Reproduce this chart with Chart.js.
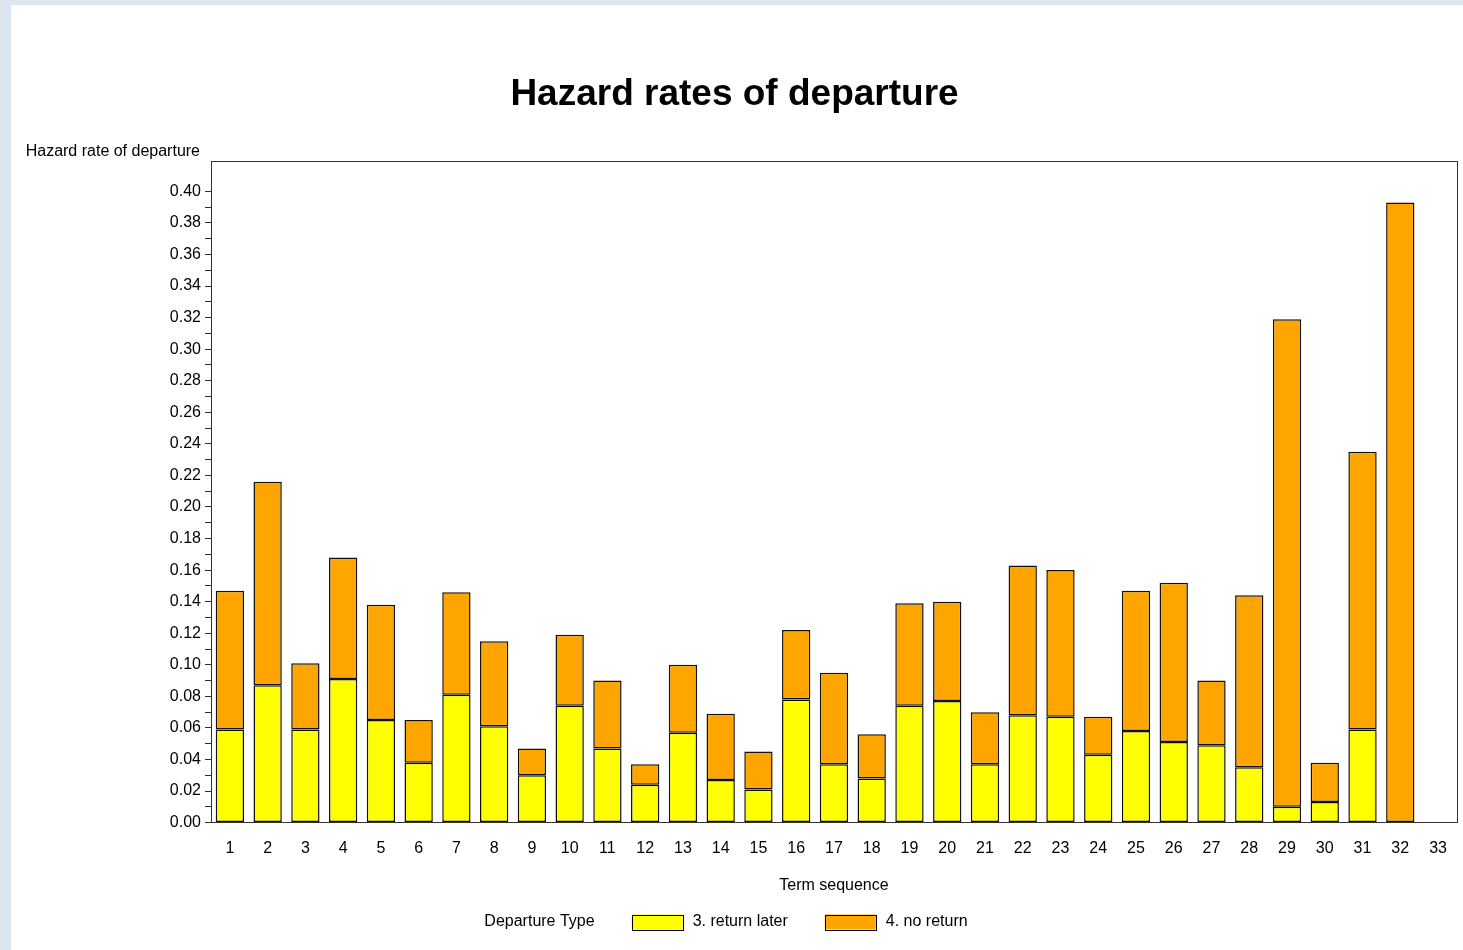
<!DOCTYPE html>
<html>
<head>
<meta charset="utf-8">
<title>Hazard rates of departure</title>
<script src="https://cdn.jsdelivr.net/npm/chart.js@4/dist/chart.umd.min.js"></script>
<style>
    html, body { margin: 0; padding: 0; overflow: hidden; background: #dce6f1; }
    #wrap { position: absolute; left: 11px; top: 5px; width: 1452px; height: 945px; background: #fff; }
</style>
</head>
<body>
<div id="wrap"><canvas id="hazardChart" width="1452" height="945"></canvas></div>
<script>
// term sequence on the x axis
const terms = ['1', '2', '3', '4', '5', '6', '7', '8', '9', '10', '11', '12', '13', '14', '15', '16', '17',
    '18', '19', '20', '21', '22', '23', '24', '25', '26', '27', '28', '29', '30', '31', '32', '33'];

// "3. return later" (bottom, yellow)
const returnLater = [0.059, 0.087, 0.059, 0.091, 0.065, 0.038, 0.081, 0.061, 0.030, 0.074, 0.047,
    0.024, 0.057, 0.027, 0.021, 0.078, 0.037, 0.028, 0.074, 0.077, 0.037, 0.068,
    0.067, 0.043, 0.058, 0.051, 0.049, 0.035, 0.010, 0.013, 0.059, 0, 0];

// "4. no return" (stacked on top, orange)
const noReturn = [0.088, 0.129, 0.042, 0.077, 0.073, 0.027, 0.065, 0.054, 0.017, 0.045, 0.043,
    0.013, 0.043, 0.042, 0.024, 0.044, 0.058, 0.028, 0.065, 0.063, 0.033, 0.095,
    0.093, 0.024, 0.089, 0.101, 0.041, 0.109, 0.309, 0.025, 0.176, 0.393, 0];

const legendTitle = 'Departure Type';
const FONT = '"Liberation Sans", Arial, Helvetica, sans-serif';

Chart.defaults.font.family = FONT;
Chart.defaults.font.size = 16;
Chart.defaults.color = '#000';

// frame round the plot, the horizontal y label at top left and the inline legend
const decorations = {
    id: 'decorations',
    afterDraw(chart) {
        const ctx = chart.ctx;
        const a = chart.chartArea;
        ctx.save();
        ctx.strokeStyle = '#333';
        ctx.lineWidth = 1;
        ctx.strokeRect(Math.round(a.left) + 0.5, Math.round(a.top) + 0.5,
            Math.round(a.right - a.left), Math.round(a.bottom - a.top));

        ctx.font = '16px ' + FONT;
        ctx.fillStyle = '#000';
        ctx.textBaseline = 'middle';
        ctx.textAlign = 'right';
        ctx.fillText('Hazard rate of departure', a.left - 11, a.top - 10);

        // legend: title then box + label for each dataset
        const boxW = 51, boxH = 15, gap = 37, textGap = 10;
        const items = chart.data.datasets.map(ds => ({
            label: ds.label, color: ds.backgroundColor, w: ctx.measureText(ds.label).width
        }));
        const titleW = ctx.measureText(legendTitle).width;
        let total = titleW;
        items.forEach(it => { total += gap + boxW + textGap + it.w; });
        let x = chart.width / 2 - 11 - total / 2;
        const y = chart.height - 28;
        ctx.textAlign = 'left';
        ctx.fillText(legendTitle, x, y);
        x += titleW + gap;
        items.forEach(it => {
            ctx.fillStyle = it.color;
            ctx.fillRect(x, y - boxH / 2, boxW, boxH);
            ctx.strokeStyle = '#000';
            ctx.strokeRect(Math.round(x) + 0.5, Math.round(y - boxH / 2) + 0.5, boxW, boxH);
            x += boxW + textGap;
            ctx.fillStyle = '#000';
            ctx.fillText(it.label, x, y);
            x += it.w + gap;
        });
        ctx.restore();
    }
};

const ctx = document.getElementById('hazardChart').getContext('2d');
const chart = new Chart(ctx, {
    type: 'bar',
    data: {
        labels: terms,
        datasets: [{
            label: '3. return later',
            data: returnLater,
            backgroundColor: '#ffff00',
            borderColor: '#111',
            borderWidth: 1.5,
            borderSkipped: false
        }, {
            label: '4. no return',
            data: noReturn,
            backgroundColor: '#ffa500',
            borderColor: '#111',
            borderWidth: 1.5,
            borderSkipped: false
        }]
    },
    options: {
        responsive: false,
        animation: false,
        layout: { padding: { left: 0, right: 5, top: 0, bottom: 55 } },
        datasets: { bar: { barPercentage: 0.75, categoryPercentage: 1.0 } },
        plugins: {
            legend: { display: false },
            tooltip: { enabled: false },
            title: {
                display: true,
                text: 'Hazard rates of departure',
                color: '#000',
                font: { size: 37, weight: 'bold' },
                padding: { top: 68, bottom: 44 }
            }
        },
        scales: {
            x: {
                stacked: true,
                grid: { display: false, drawTicks: false },
                border: { display: true, color: '#333' },
                ticks: { padding: 16, color: '#000', font: { size: 16 } },
                title: {
                    display: true,
                    text: 'Term sequence',
                    color: '#000',
                    font: { size: 16 },
                    padding: { top: 2, bottom: 0 }
                }
            },
            y: {
                stacked: true,
                min: 0,
                max: 0.419,
                afterFit: scale => { scale.width = 200; },
                border: { display: true, color: '#333' },
                grid: {
                    drawOnChartArea: false,
                    drawTicks: true,
                    tickLength: 6,
                    tickColor: c => (c.tick && c.tick.value > 0.4005 ? 'rgba(0,0,0,0)' : '#333')
                },
                ticks: {
                    stepSize: 0.01,
                    autoSkip: false,
                    padding: 4,
                    color: '#000',
                    font: { size: 16 },
                    callback: v => {
                        const k = Math.round(v * 100);
                        return (k % 2 === 0 && v <= 0.4005) ? v.toFixed(2) : '';
                    }
                }
            }
        }
    },
    plugins: [decorations]
});
</script>
</body>
</html>
